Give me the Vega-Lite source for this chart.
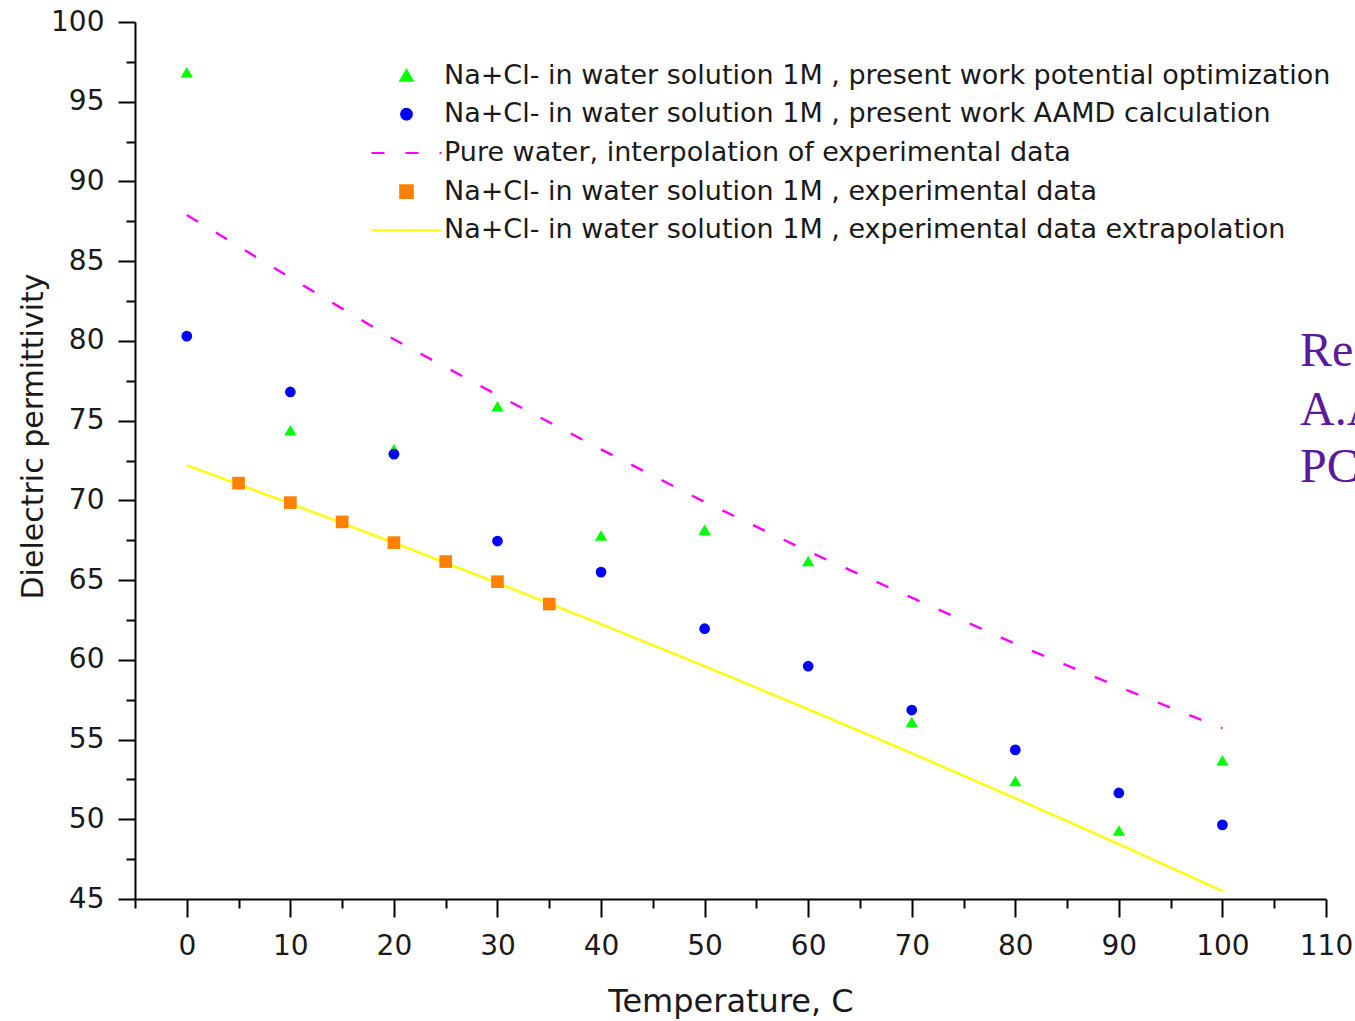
{
  "$schema": "https://vega.github.io/schema/vega-lite/v6.json",
  "width": 1191,
  "height": 877,
  "autosize": "none",
  "padding": {"left": 135, "top": 22, "right": 29, "bottom": 122},
  "background": "white",
  "config": {
    "view": {"stroke": null},
    "axis": {
      "domainColor": "black", "domainWidth": 2,
      "tickColor": "black", "tickWidth": 2,
      "labelFont": "DejaVu Sans", "labelFontSize": 28, "labelColor": "#1a1a1a",
      "titleFont": "DejaVu Sans", "titleFontSize": 32, "titleFontWeight": "normal", "titleColor": "#1a1a1a",
      "grid": false, "labelOverlap": false, "labelFlush": false
    },
    "legend": {
      "orient": "none", "legendX": 258, "legendY": 40, "padding": 0,
      "labelFont": "DejaVu Sans", "labelFontSize": 27, "labelColor": "#1a1a1a",
      "labelLimit": 1200, "labelOffset": 24, "rowPadding": 10.7, "symbolStrokeWidth": 2
    }
  },
  "data": {"values": [
    {"series": "Na+Cl- in water solution 1M , present work potential optimization", "T": 0, "eps": 96.85},
    {"series": "Na+Cl- in water solution 1M , present work potential optimization", "T": 10, "eps": 74.4},
    {"series": "Na+Cl- in water solution 1M , present work potential optimization", "T": 20, "eps": 73.2},
    {"series": "Na+Cl- in water solution 1M , present work potential optimization", "T": 30, "eps": 75.9},
    {"series": "Na+Cl- in water solution 1M , present work potential optimization", "T": 40, "eps": 67.8},
    {"series": "Na+Cl- in water solution 1M , present work potential optimization", "T": 50, "eps": 68.15},
    {"series": "Na+Cl- in water solution 1M , present work potential optimization", "T": 60, "eps": 66.2},
    {"series": "Na+Cl- in water solution 1M , present work potential optimization", "T": 70, "eps": 56.1},
    {"series": "Na+Cl- in water solution 1M , present work potential optimization", "T": 80, "eps": 52.4},
    {"series": "Na+Cl- in water solution 1M , present work potential optimization", "T": 90, "eps": 49.3},
    {"series": "Na+Cl- in water solution 1M , present work potential optimization", "T": 100, "eps": 53.7},
    {"series": "Na+Cl- in water solution 1M , present work AAMD calculation", "T": 0, "eps": 80.3},
    {"series": "Na+Cl- in water solution 1M , present work AAMD calculation", "T": 10, "eps": 76.8},
    {"series": "Na+Cl- in water solution 1M , present work AAMD calculation", "T": 20, "eps": 72.9},
    {"series": "Na+Cl- in water solution 1M , present work AAMD calculation", "T": 30, "eps": 67.45},
    {"series": "Na+Cl- in water solution 1M , present work AAMD calculation", "T": 40, "eps": 65.5},
    {"series": "Na+Cl- in water solution 1M , present work AAMD calculation", "T": 50, "eps": 61.95},
    {"series": "Na+Cl- in water solution 1M , present work AAMD calculation", "T": 60, "eps": 59.6},
    {"series": "Na+Cl- in water solution 1M , present work AAMD calculation", "T": 70, "eps": 56.85},
    {"series": "Na+Cl- in water solution 1M , present work AAMD calculation", "T": 80, "eps": 54.35},
    {"series": "Na+Cl- in water solution 1M , present work AAMD calculation", "T": 90, "eps": 51.65},
    {"series": "Na+Cl- in water solution 1M , present work AAMD calculation", "T": 100, "eps": 49.65},
    {"series": "Pure water, interpolation of experimental data", "T": 0, "eps": 87.9},
    {"series": "Pure water, interpolation of experimental data", "T": 10, "eps": 83.96},
    {"series": "Pure water, interpolation of experimental data", "T": 20, "eps": 80.1},
    {"series": "Pure water, interpolation of experimental data", "T": 30, "eps": 76.6},
    {"series": "Pure water, interpolation of experimental data", "T": 40, "eps": 73.2},
    {"series": "Pure water, interpolation of experimental data", "T": 50, "eps": 69.9},
    {"series": "Pure water, interpolation of experimental data", "T": 60, "eps": 66.8},
    {"series": "Pure water, interpolation of experimental data", "T": 70, "eps": 63.9},
    {"series": "Pure water, interpolation of experimental data", "T": 80, "eps": 61.0},
    {"series": "Pure water, interpolation of experimental data", "T": 90, "eps": 58.3},
    {"series": "Pure water, interpolation of experimental data", "T": 100, "eps": 55.7},
    {"series": "Na+Cl- in water solution 1M , experimental data", "T": 5, "eps": 71.08},
    {"series": "Na+Cl- in water solution 1M , experimental data", "T": 10, "eps": 69.86},
    {"series": "Na+Cl- in water solution 1M , experimental data", "T": 15, "eps": 68.65},
    {"series": "Na+Cl- in water solution 1M , experimental data", "T": 20, "eps": 67.35},
    {"series": "Na+Cl- in water solution 1M , experimental data", "T": 25, "eps": 66.16},
    {"series": "Na+Cl- in water solution 1M , experimental data", "T": 30, "eps": 64.9},
    {"series": "Na+Cl- in water solution 1M , experimental data", "T": 35, "eps": 63.5},
    {"series": "Na+Cl- in water solution 1M , experimental data extrapolation", "T": 0, "eps": 72.2},
    {"series": "Na+Cl- in water solution 1M , experimental data extrapolation", "T": 10, "eps": 69.8},
    {"series": "Na+Cl- in water solution 1M , experimental data extrapolation", "T": 20, "eps": 67.34},
    {"series": "Na+Cl- in water solution 1M , experimental data extrapolation", "T": 30, "eps": 64.82},
    {"series": "Na+Cl- in water solution 1M , experimental data extrapolation", "T": 40, "eps": 62.24},
    {"series": "Na+Cl- in water solution 1M , experimental data extrapolation", "T": 50, "eps": 59.6},
    {"series": "Na+Cl- in water solution 1M , experimental data extrapolation", "T": 60, "eps": 56.9},
    {"series": "Na+Cl- in water solution 1M , experimental data extrapolation", "T": 70, "eps": 54.14},
    {"series": "Na+Cl- in water solution 1M , experimental data extrapolation", "T": 80, "eps": 51.32},
    {"series": "Na+Cl- in water solution 1M , experimental data extrapolation", "T": 90, "eps": 48.44},
    {"series": "Na+Cl- in water solution 1M , experimental data extrapolation", "T": 100, "eps": 45.5}
  ]},
  "encoding": {
    "x": {
      "field": "T", "type": "quantitative",
      "scale": {"domain": [-5, 110], "nice": false, "zero": false},
      "axis": {
        "title": "Temperature, C",
        "values": [-5, 0, 5, 10, 15, 20, 25, 30, 35, 40, 45, 50, 55, 60, 65, 70, 75, 80, 85, 90, 95, 100, 105, 110],
        "labelExpr": "datum.value % 10 === 0 ? datum.label : ''",
        "tickSize": {"condition": {"test": "datum.value % 10 === 0", "value": 18}, "value": 9},
        "labelPadding": 15,
        "titleY": 112, "titleBaseline": "alphabetic"
      }
    },
    "y": {
      "field": "eps", "type": "quantitative",
      "scale": {"domain": [45, 100], "nice": false, "zero": false},
      "axis": {
        "title": "Dielectric permittivity",
        "values": [45, 47.5, 50, 52.5, 55, 57.5, 60, 62.5, 65, 67.5, 70, 72.5, 75, 77.5, 80, 82.5, 85, 87.5, 90, 92.5, 95, 97.5, 100],
        "labelExpr": "datum.value % 5 === 0 ? datum.label : ''",
        "tickSize": {"condition": {"test": "datum.value % 5 === 0", "value": 17}, "value": 9},
        "labelPadding": 14,
        "titleFontSize": 30,
        "titleX": -93, "titleY": 414, "titleBaseline": "alphabetic"
      }
    }
  },
  "layer": [
    {
      "transform": [{"filter": "indexof(datum.series, 'Pure') === 0 || indexof(datum.series, 'extrapolation') > 0"}],
      "mark": {"type": "line", "strokeWidth": 2.4},
      "encoding": {
        "color": {
          "field": "series", "type": "nominal",
          "scale": {
            "domain": [
              "Na+Cl- in water solution 1M , present work potential optimization",
              "Na+Cl- in water solution 1M , present work AAMD calculation",
              "Pure water, interpolation of experimental data",
              "Na+Cl- in water solution 1M , experimental data",
              "Na+Cl- in water solution 1M , experimental data extrapolation"
            ],
            "range": ["#00ff00", "#0000ff", "#ff00ff", "#ff8000", "#ffff00"]
          },
          "legend": {"title": null}
        },
        "strokeDash": {
          "field": "series", "type": "nominal",
          "scale": {
            "domain": [
              "Na+Cl- in water solution 1M , present work potential optimization",
              "Na+Cl- in water solution 1M , present work AAMD calculation",
              "Pure water, interpolation of experimental data",
              "Na+Cl- in water solution 1M , experimental data",
              "Na+Cl- in water solution 1M , experimental data extrapolation"
            ],
            "range": [[1, 0], [1, 0], [13, 21], [1, 0], [1, 0]]
          },
          "legend": {"title": null}
        }
      }
    },
    {
      "transform": [{"filter": "!(indexof(datum.series, 'Pure') === 0 || indexof(datum.series, 'extrapolation') > 0)"}],
      "mark": {"type": "point", "filled": true, "opacity": 1},
      "encoding": {
        "color": {"field": "series", "type": "nominal", "legend": {"title": null}},
        "shape": {
          "field": "series", "type": "nominal",
          "scale": {
            "domain": [
              "Na+Cl- in water solution 1M , present work potential optimization",
              "Na+Cl- in water solution 1M , present work AAMD calculation",
              "Pure water, interpolation of experimental data",
              "Na+Cl- in water solution 1M , experimental data",
              "Na+Cl- in water solution 1M , experimental data extrapolation"
            ],
            "range": ["triangle-up", "circle", "M-5.83,0H5.83", "square", "M-5.83,0H5.83"]
          },
          "legend": {"title": null}
        },
        "size": {
          "field": "series", "type": "nominal",
          "scale": {
            "type": "ordinal",
            "domain": [
              "Na+Cl- in water solution 1M , present work potential optimization",
              "Na+Cl- in water solution 1M , present work AAMD calculation",
              "Pure water, interpolation of experimental data",
              "Na+Cl- in water solution 1M , experimental data",
              "Na+Cl- in water solution 1M , experimental data extrapolation"
            ],
            "range": [150, 115, 144, 160, 144]
          },
          "legend": null
        }
      }
    },
    {
      "data": {"values": [
        {"note": "Re", "T": 107.5, "eps": 79.3},
        {"note": "A.A", "T": 107.5, "eps": 75.6},
        {"note": "PC", "T": 107.5, "eps": 72.0}
      ]},
      "mark": {"type": "text", "align": "left", "baseline": "middle", "font": "Liberation Serif", "fontSize": 48, "color": "#5b1a9e"},
      "encoding": {"text": {"field": "note"}}
    }
  ]
}
